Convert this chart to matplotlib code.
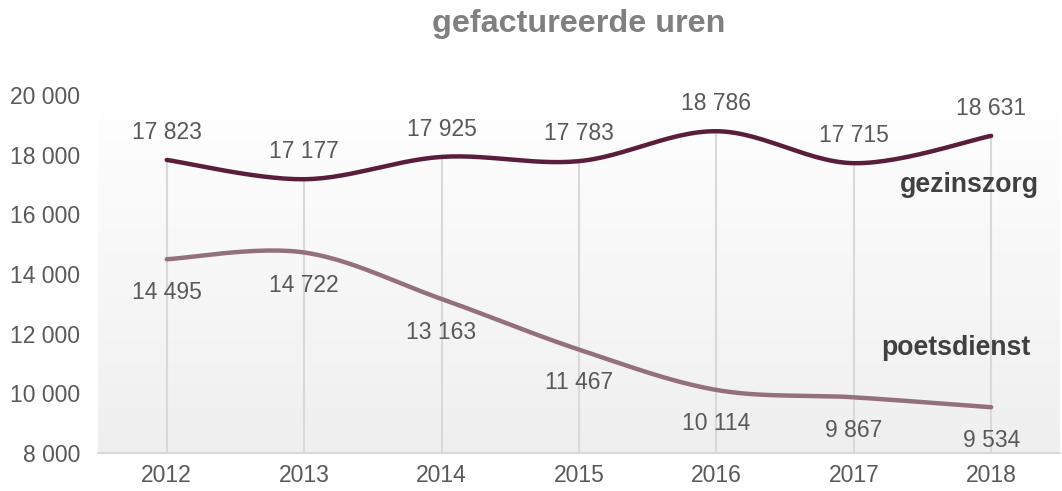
import numpy as np
import matplotlib
matplotlib.use('Agg')
import matplotlib.pyplot as plt
from matplotlib.colors import LinearSegmentedColormap

plt.rcParams['font.family'] = ['Liberation Sans', 'DejaVu Sans']

years = ['2012', '2013', '2014', '2015', '2016', '2017', '2018']
gezinszorg = [17823, 17177, 17925, 17783, 18786, 17715, 18631]
poetsdienst = [14495, 14722, 13163, 11467, 10114, 9867, 9534]

dark = '#5a1e3b'
light = '#94707e'
grey_txt = '#595959'


def smooth(x, y, n=30):
    # Catmull-Rom style smoothing, similar to Excel's "smoothed line"
    x = np.asarray(x, float)
    y = np.asarray(y, float)
    px = np.concatenate([[x[0]], x, [x[-1]]])
    py = np.concatenate([[y[0]], y, [y[-1]]])
    xs, ys = [], []
    t = np.linspace(0, 1, n)
    for i in range(1, len(px) - 2):
        p0 = np.array([px[i], py[i]])
        p3 = np.array([px[i + 1], py[i + 1]])
        p1 = p0 + (np.array([px[i + 1], py[i + 1]]) - np.array([px[i - 1], py[i - 1]])) / 6
        p2 = p3 - (np.array([px[i + 2], py[i + 2]]) - np.array([px[i], py[i]])) / 6
        b = (((1 - t) ** 3)[:, None] * p0 + (3 * (1 - t) ** 2 * t)[:, None] * p1
             + (3 * (1 - t) * t ** 2)[:, None] * p2 + (t ** 3)[:, None] * p3)
        xs.extend(b[:, 0])
        ys.extend(b[:, 1])
    return np.array(xs), np.array(ys)


fig = plt.figure(figsize=(10.62, 4.91), dpi=100)
ax = fig.add_axes([0.0923, 0.0774, 0.9057, 0.7291])

xpos = np.arange(len(years))
ax.set_xlim(-0.5, len(years) - 0.5)
ax.set_ylim(8000, 20000)

# gradient background of the plot area
cmap = LinearSegmentedColormap.from_list('bg', ['#efefef', '#ffffff'])
grad = np.linspace(0, 1, 256).reshape(-1, 1)
ax.imshow(grad, extent=[-0.5, len(years) - 0.5, 8000, 20000], aspect='auto',
          cmap=cmap, vmin=0, vmax=1, zorder=0, origin='lower')

# drop lines
for i in xpos:
    ax.plot([i, i], [8000, max(gezinszorg[i], poetsdienst[i])],
            color='#d9d9d9', lw=1.5, zorder=1)

sx, sy = smooth(xpos, gezinszorg)
ax.plot(sx, sy, color=dark, lw=3.2, solid_capstyle='round', zorder=3)
sx, sy = smooth(xpos, poetsdienst)
ax.plot(sx, sy, color=light, lw=3.2, solid_capstyle='round', zorder=3)

for i in xpos:
    ax.annotate(f'{gezinszorg[i]:,}'.replace(',', ' '), (i, gezinszorg[i]),
                xytext=(0, 20), textcoords='offset points', ha='center',
                va='center', fontsize=16.5, color=grey_txt)
    ax.annotate(f'{poetsdienst[i]:,}'.replace(',', ' '), (i, poetsdienst[i]),
                xytext=(0, -24), textcoords='offset points', ha='center',
                va='center', fontsize=16.5, color=grey_txt)

ax.text(5.84, 16984, 'gezinszorg', ha='center', va='center', fontsize=19.2,
        fontweight='bold', color='#404040')
ax.text(5.74, 11520, 'poetsdienst', ha='center', va='center', fontsize=19.2,
        fontweight='bold', color='#404040')

ax.set_xticks(xpos)
ax.set_xticklabels(years)
yt = np.arange(8000, 20001, 2000)
ax.set_yticks(yt)
ax.set_yticklabels([f'{v:,}'.replace(',', ' ') for v in yt])
ax.tick_params(length=0, labelsize=16.5, labelcolor=grey_txt)
ax.tick_params(axis='y', pad=13)
ax.tick_params(axis='x', pad=8)

for s in ['top', 'right', 'left']:
    ax.spines[s].set_visible(False)
ax.spines['bottom'].set_color('#d9d9d9')
ax.spines['bottom'].set_linewidth(1.5)
ax.spines['bottom'].set_zorder(2)

fig.text(0.545, 0.951, 'gefactureerde uren', ha='center', va='center',
         fontsize=23.3, fontweight='bold', color='#808080')

fig.savefig('out.png', dpi=100)
